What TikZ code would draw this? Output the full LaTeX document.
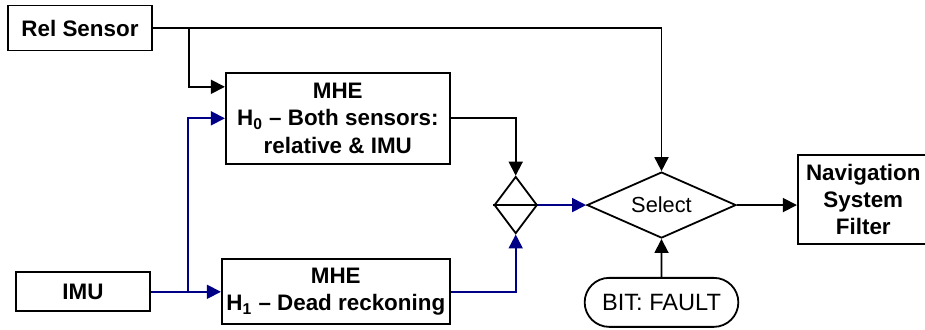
\documentclass[tikz,border=0pt]{standalone}
\usepackage{fontspec}
\setmainfont{Liberation Sans}
\usetikzlibrary{positioning,shapes.geometric,shapes.misc,arrows.meta,calc}
\definecolor{navyline}{RGB}{0,0,135}

\begin{document}
\begin{tikzpicture}[node distance=20pt and 30pt, box/.style={draw, line width=0.9pt, align=center, inner sep=1pt, font=\fontsize{11.2}{13.6}\selectfont\bfseries}, decision/.style={draw, diamond, line width=0.9pt, inner sep=1pt, font=\fontsize{10.9}{12}\selectfont}, arrow/.style={-{Triangle[length=7pt,width=7pt]}, line width=0.9pt}, imuarrow/.style={arrow, navyline}]
        \useasboundingbox (0,0) rectangle (462.5pt,-164.5pt);
        \node[box, minimum width=72pt, minimum height=22.5pt] (rel) at (40pt,-14pt) {Rel Sensor};
        \node[box, minimum width=112pt, minimum height=45.5pt, below right=10.25pt and 36pt of rel] (mhe0) {MHE\\H\textsubscript{0} -- Both sensors:\\relative \& IMU};
        \node[box, minimum width=67pt, minimum height=19.5pt, below=110pt of rel, xshift=1.5pt] (imu) {IMU};
        \node[box, minimum width=114pt, minimum height=32.5pt, right=35pt of imu] (mhe1) {MHE\\H\textsubscript{1} -- Dead reckoning};
        \node[decision, minimum width=21.5pt, minimum height=28.5pt, inner sep=0pt] (merge) at ($(mhe0.east)!0.5!(mhe1.east) + (32.5pt,0)$) {};
        \node[decision, minimum width=74.5pt, minimum height=33pt, aspect=2.25, right=24pt of merge] (select) {Select};
        \node[box, minimum width=65.5pt, minimum height=44.5pt, right=30pt of select, yshift=2.75pt] (nav) {Navigation\\System\\Filter};
        \node[draw, rounded rectangle, line width=0.9pt, minimum width=83.5pt, minimum height=24.5pt, font=\fontsize{11.8}{13}\selectfont, below=19pt of select] (bit) {BIT: FAULT};
        \coordinate (relsplit) at ($(rel.east) + (18pt,0)$);
        \coordinate (imusplit) at ($(imu.east) + (18.5pt,0)$);
        \draw[arrow] (rel) -| (select);
        \draw[arrow] (relsplit) |- ([yshift=15.75pt]mhe0.west);
        \draw[imuarrow] (imu) -- (mhe1);
        \draw[imuarrow] (imusplit) |- (mhe0.west);
        \draw[arrow] (mhe0) -| (merge);
        \draw[imuarrow] (mhe1) -| (merge);
        \draw[line width=0.9pt] (merge.west) -- (merge.east);
        \draw[imuarrow] (merge) -- (select);
        \draw[arrow] (select.east) -- (select.east -| nav.west);
        \draw[arrow] (bit) -- (select);
    \end{tikzpicture}
\end{document}
